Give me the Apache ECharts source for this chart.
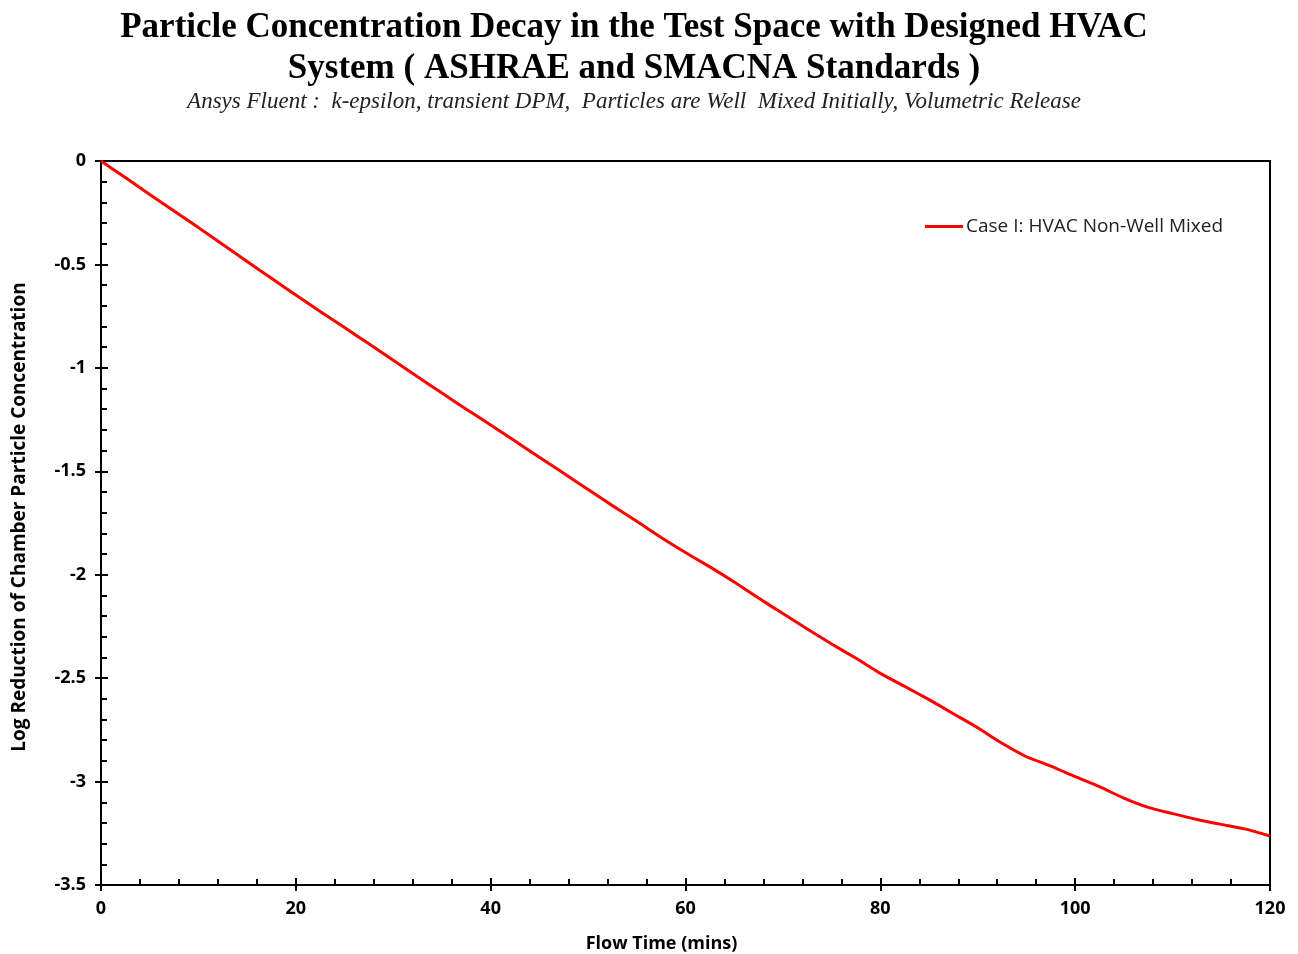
<!DOCTYPE html>
<html>
<head>
<meta charset="utf-8">
<script src="https://cdn.jsdelivr.net/npm/echarts@6/dist/echarts.min.js"></script>
<style>
  html, body { margin: 0; padding: 0; background: #fff; }
  #chart { width: 1298px; height: 954px; }
</style>
</head>
<body>
<div id="chart"></div>
<script>
// Flow time (minutes) and the log reduction of the chamber particle concentration
const flowTime = [0, 2.5, 5, 7.5, 10, 12.5, 15, 17.5, 20, 22.5, 25, 27.5, 30, 32.5, 35, 37.5, 40,
  42.5, 45, 47.5, 50, 52.5, 55, 57.5, 60, 62.5, 65, 67.5, 70, 72.5, 75, 77.5, 80,
  82.5, 85, 87.5, 90, 92.5, 95, 97.5, 100, 102.5, 105, 107.5, 110, 112.5, 115, 117.5, 120];
const logReduction = [0, -0.080, -0.162, -0.242, -0.322, -0.404, -0.486, -0.567, -0.648, -0.727, -0.805, -0.884, -0.963, -1.043, -1.122, -1.200, -1.276,
  -1.354, -1.432, -1.510, -1.588, -1.666, -1.742, -1.820, -1.893, -1.962, -2.035, -2.113, -2.188, -2.262, -2.335, -2.404, -2.477,
  -2.540, -2.604, -2.672, -2.740, -2.815, -2.880, -2.925, -2.976, -3.025, -3.080, -3.125, -3.155, -3.183, -3.207, -3.230, -3.263];
const seriesName = 'Case I: HVAC Non-Well Mixed';
const xTicks = { min: 0, max: 120, interval: 20 };
const yTicks = { min: -3.5, max: 0, interval: 0.5 };

const titleText = 'Particle Concentration Decay in the Test Space with Designed HVAC\nSystem ( ASHRAE and SMACNA Standards )';
const subText = 'Ansys Fluent :  k-epsilon, transient DPM,  Particles are Well  Mixed Initially, Volumetric Release';

const labelFont = { fontFamily: 'Open Sans', fontWeight: 'bold', fontSize: 18, color: '#000' };
const grid = { left: 101, right: 28, top: 161, bottom: 69 };
const tickLine = { color: '#000', width: 2 };

// secondary axis that only draws the outer half of the major ticks
function outerTicks(axis, position) {
  return Object.assign({}, axis, {
    position: position, offset: 0,
    axisLine: { show: true, onZero: false, lineStyle: { color: '#000', width: 2 } },
    axisTick: { show: true, inside: false, length: 6, lineStyle: tickLine },
    axisLabel: { show: false }, splitLine: { show: false }
  });
}
const xBase = { type: 'value', min: xTicks.min, max: xTicks.max, interval: xTicks.interval };
const yBase = { type: 'value', min: yTicks.min, max: yTicks.max, interval: yTicks.interval };

const chart = echarts.init(document.getElementById('chart'));
chart.setOption({
  backgroundColor: '#fff',
  animation: false,
  title: [{
    text: titleText,
    left: 629, top: 2, textAlign: 'center',
    textStyle: { fontFamily: 'Liberation Serif', fontWeight: 'bold', fontSize: 35, lineHeight: 41, color: '#000' },
    subtext: subText,
    itemGap: 1,
    subtextStyle: { fontFamily: 'Liberation Serif', fontStyle: 'italic', fontSize: 23, color: '#222' }
  }],
  legend: {
    data: [seriesName],
    right: 70, top: 212,
    itemWidth: 38, itemHeight: 3, itemGap: 4,
    icon: 'rect',
    textStyle: { fontFamily: 'Open Sans', fontSize: 19, color: '#222', padding: [0, 0, 0, -2] }
  },
  grid: Object.assign({
    show: true, borderColor: '#000', borderWidth: 2, backgroundColor: '#fff',
    containLabel: false, outerBoundsMode: 'none'
  }, grid),
  xAxis: [Object.assign({}, xBase, {
    name: 'Flow Time (mins)', nameLocation: 'middle', nameGap: 50,
    nameTextStyle: { fontFamily: 'Open Sans', fontWeight: 'bold', fontSize: 18, color: '#000', padding: [0, 48, 0, 0] },
    axisLine: { show: true, onZero: false, lineStyle: { color: '#000', width: 2 } },
    axisTick: { show: true, inside: true, length: 7, lineStyle: tickLine },
    minorTick: { show: true, splitNumber: 5, length: 6, lineStyle: tickLine },
    splitLine: { show: false },
    axisLabel: Object.assign({ margin: 15 }, labelFont)
  }), outerTicks(xBase, 'bottom')],
  yAxis: [Object.assign({}, yBase, {
    name: 'Log Reduction of Chamber Particle Concentration', nameLocation: 'middle', nameGap: 72, nameRotate: 90,
    nameTextStyle: { fontFamily: 'Open Sans', fontWeight: 'bold', fontSize: 19, color: '#000', padding: [0, 0, 0, 12] },
    axisLine: { show: true, onZero: false, lineStyle: { color: '#000', width: 2 } },
    axisTick: { show: true, inside: true, length: 7, lineStyle: tickLine },
    minorTick: { show: true, splitNumber: 5, length: 6, lineStyle: tickLine },
    splitLine: { show: false },
    axisLabel: Object.assign({ margin: 15 }, labelFont)
  }), outerTicks(yBase, 'left')],
  series: [{
    name: seriesName,
    type: 'line',
    xAxisIndex: 0, yAxisIndex: 0,
    data: flowTime.map((t, i) => [t, logReduction[i]]),
    showSymbol: false,
    smooth: 0.2,
    lineStyle: { color: '#ff0000', width: 3 },
    itemStyle: { color: '#ff0000' }
  }]
});
</script>
</body>
</html>
